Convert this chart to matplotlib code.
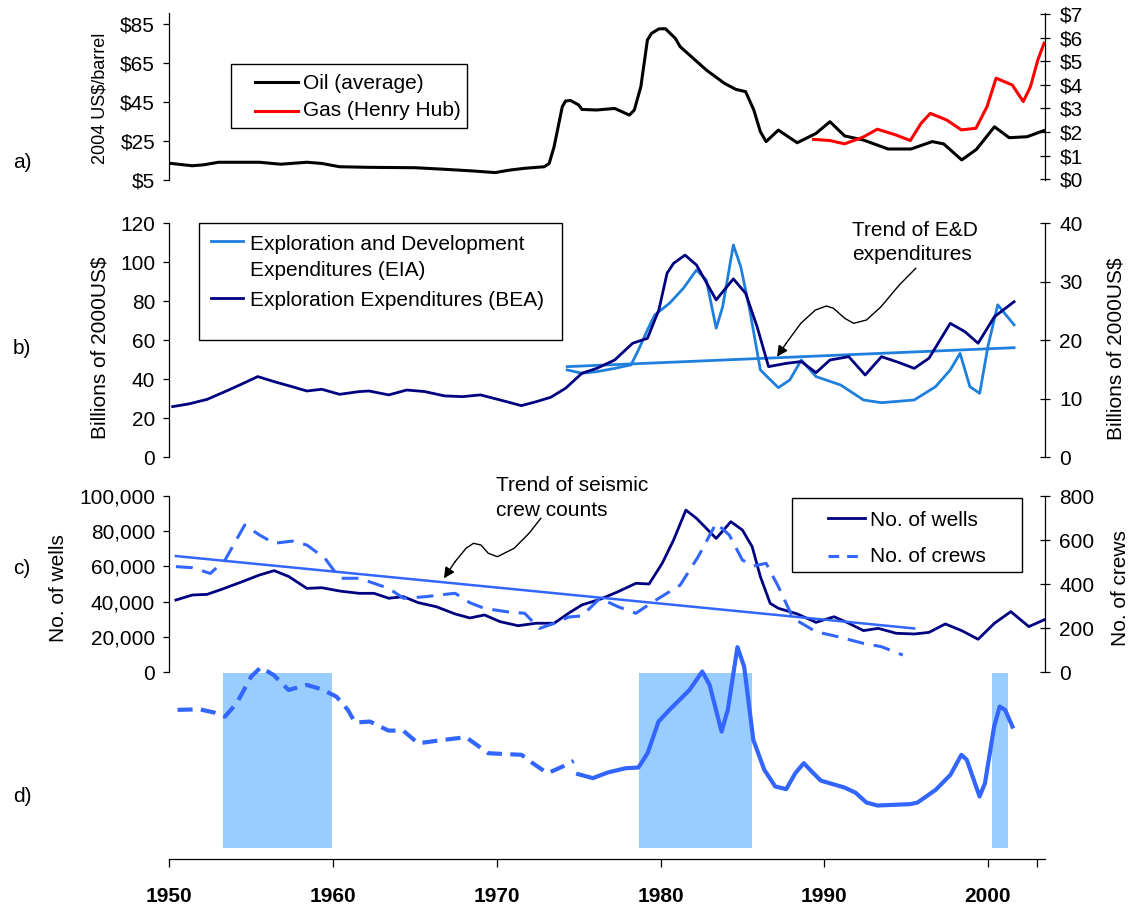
import matplotlib
matplotlib.use("Agg")
import matplotlib.pyplot as plt
from matplotlib.lines import Line2D
from matplotlib.patches import Rectangle
from matplotlib.ticker import FixedLocator, FuncFormatter

plt.rcParams['font.family'] = ['Liberation Sans', 'DejaVu Sans']

# ---- data ----
# a) prices
oil_years = [1950.1, 1951.4, 1952.1, 1953.0, 1955.5, 1956.8, 1958.4, 1959.3, 1960.4, 1962.2,
             1965.0, 1966.8, 1968.6, 1969.9, 1970.8, 1971.7, 1972.9, 1973.2, 1973.5, 1974.0,
             1974.2, 1974.5, 1975.0, 1975.2, 1976.1, 1977.2, 1978.1, 1978.4, 1978.8, 1979.2,
             1979.45, 1979.9, 1980.3, 1980.9, 1981.2, 1982.8, 1983.9, 1984.6, 1985.2, 1985.7,
             1986.1, 1986.45, 1987.2, 1988.35, 1989.5, 1990.35, 1991.25, 1992.4, 1993.9, 1995.3,
             1996.6, 1997.3, 1998.4, 1999.3, 2000.4, 2001.3, 2002.4, 2003.4]
oil_price = [13.5, 12.3, 12.8, 14.1, 14.1, 13.1, 14.1, 13.5, 11.8, 11.5,
             11.3, 10.5, 9.6, 8.8, 10.1, 11.0, 11.8, 13.5, 22.1, 42.6,
             45.5, 45.8, 43.5, 41.2, 40.9, 41.7, 38.3, 40.9, 52.9, 76.8,
             80.2, 82.5, 82.6, 77.7, 73.4, 61.4, 54.6, 51.5, 50.3, 40.9,
             29.8, 24.7, 30.6, 24.1, 28.9, 34.9, 27.6, 25.5, 20.9, 20.9,
             24.7, 23.5, 15.3, 20.7, 32.3, 26.7, 27.2, 30.3]
gas_years = [1989.35, 1990.35, 1991.24, 1992.36, 1993.25, 1994.36, 1995.26, 1995.92, 1996.48,
             1997.48, 1998.38, 1999.27, 1999.95, 2000.5, 2001.49, 2002.16, 2002.6, 2003.05, 2003.43]
gas_price = [1.69, 1.64, 1.50, 1.78, 2.12, 1.88, 1.64, 2.37, 2.79,
             2.51, 2.09, 2.16, 3.08, 4.28, 3.99, 3.29, 3.92, 5.05, 5.76]

# b) expenditures
bea_years = [1950.2, 1951.2, 1952.3, 1953.4, 1954.3, 1955.4, 1956.4, 1957.5, 1958.4, 1959.3,
             1960.4, 1961.6, 1962.2, 1963.4, 1964.5, 1965.6, 1966.8, 1967.9, 1969.0, 1970.2,
             1971.5, 1972.4, 1973.3, 1974.2, 1975.2, 1976.1, 1977.2, 1978.3, 1979.2, 1979.9,
             1980.4, 1980.8, 1981.5, 1982.2, 1983.4, 1984.45, 1985.2, 1985.9, 1986.6, 1987.7,
             1988.6, 1989.5, 1990.35, 1991.5, 1992.5, 1993.5, 1994.6, 1995.5, 1996.4, 1997.7,
             1998.6, 1999.4, 2000.4, 2001.6]
bea_left = [26.0, 27.4, 29.7, 33.7, 37.1, 41.4, 38.8, 36.2, 34.0, 34.9,
            32.3, 33.7, 34.0, 32.0, 34.5, 33.7, 31.5, 31.1, 32.0, 29.4,
            26.5, 28.5, 30.8, 35.4, 43.1, 45.6, 49.9, 58.5, 61.0, 75.6,
            94.4, 99.5, 103.7, 98.6, 80.7, 91.5, 84.1, 67.0, 46.5, 48.2,
            49.1, 43.4, 49.9, 51.6, 42.2, 51.6, 48.5, 45.6, 50.8, 68.7,
            64.4, 58.5, 72.1, 79.8]
bea_spend = [v / 3 for v in bea_left]          # right axis, billions 2000US$
eia_years = [1974.3, 1975.2, 1976.1, 1977.2, 1978.2, 1978.65, 1979.2, 1979.65, 1980.55, 1981.4,
             1982.2, 1982.8, 1983.4, 1983.8, 1984.45, 1984.9, 1985.45, 1986.1, 1987.2, 1987.9,
             1988.6, 1989.5, 1991.0, 1992.4, 1993.5, 1995.5, 1996.8, 1997.7, 1998.3, 1998.9,
             1999.5, 2000.0, 2000.6, 2001.6]
eia_spend = [44.8, 43.1, 43.9, 45.6, 47.4, 55.0, 65.3, 73.0, 79.0, 86.7,
             96.1, 90.9, 66.2, 77.3, 108.9, 97.8, 75.6, 44.8, 35.7, 39.7,
             49.9, 41.4, 37.1, 29.4, 28.0, 29.4, 36.2, 44.8, 53.3, 36.2,
             32.8, 56.8, 78.2, 67.9]
ed_trend_years = [1974.3, 2001.6]
ed_trend = [46.5, 56.2]

# c) wells and crews
well_years = [1950.4, 1951.4, 1952.3, 1953.2, 1954.3, 1955.5, 1956.4, 1957.3, 1958.4, 1959.3,
              1960.4, 1961.6, 1962.5, 1963.4, 1964.3, 1965.2, 1966.3, 1967.45, 1968.35, 1969.25,
              1970.2, 1971.3, 1972.4, 1973.5, 1974.4, 1975.2, 1976.3, 1977.4, 1978.5, 1979.3,
              1980.1, 1980.8, 1981.55, 1982.2, 1982.8, 1983.4, 1984.3, 1985.0, 1985.6, 1986.1,
              1986.7, 1987.2, 1988.35, 1989.5, 1990.6, 1991.5, 1992.4, 1993.3, 1994.4, 1995.5,
              1996.4, 1997.4, 1998.4, 1999.4, 2000.4, 2001.4, 2002.5, 2003.5]
wells = [40900, 43750, 44100, 47000, 50800, 55100, 57600, 54200, 47500, 47900,
         46000, 44700, 44700, 41900, 42800, 39400, 37100, 33000, 30700, 32400,
         28600, 26300, 27700, 27700, 33500, 38100, 41300, 45600, 50400, 50000,
         61700, 75000, 92000, 87300, 81600, 75900, 85400, 80700, 71200, 54200,
         39000, 36200, 33000, 28200, 31400, 27700, 23500, 24800, 22000, 21600,
         22500, 27300, 23500, 18600, 27700, 34300, 25800, 29900]
crew_years = [1950.4, 1951.4, 1952.5, 1953.4, 1954.6, 1955.5, 1956.4, 1957.5, 1958.4, 1959.5,
              1960.4, 1961.6, 1962.5, 1963.4, 1964.3, 1965.6, 1967.45, 1968.35, 1969.25, 1970.6,
              1971.7, 1972.6, 1973.5, 1974.4, 1975.2, 1976.3, 1977.4, 1978.5, 1979.4, 1981.2,
              1982.3, 1983.4, 1984.2, 1985.0, 1985.7, 1986.45, 1987.2, 1988.1, 1989.5, 1990.8,
              1992.4, 1993.5, 1994.8]
crews = [479, 474, 448, 509, 668, 623, 585, 595, 577, 517,
         426, 426, 403, 380, 335, 342, 358, 315, 289, 274,
         267, 198, 221, 250, 255, 335, 297, 267, 312, 395,
         524, 676, 623, 509, 482, 494, 388, 244, 183, 161,
         130, 115, 77]
crew_trend_years = [1950.4, 1995.5]
crew_trend = [527, 198]

# d) composite index (no scale) and shaded periods
d_dash_years = [1950.5, 1951.85, 1952.76, 1953.39, 1954.11, 1955.0, 1955.58, 1956.37, 1957.28,
                1958.4, 1959.3, 1960.2, 1960.9, 1961.34, 1962.25, 1963.38, 1964.28, 1965.19,
                1966.77, 1968.12, 1969.48, 1971.51, 1972.19, 1973.1, 1974.05, 1974.7]
d_dash = [79.0, 79.3, 77.4, 75.1, 82.8, 98.1, 103.4, 99.0, 90.4,
          93.3, 90.8, 86.6, 79.0, 71.7, 72.3, 67.1, 67.1, 59.8,
          61.8, 63.3, 54.1, 53.2, 48.4, 42.6, 46.6, 49.7]
d_solid_years = [1974.97, 1975.87, 1976.76, 1977.87, 1978.65, 1979.21, 1979.88, 1980.55, 1981.77,
                 1982.55, 1983.0, 1983.73, 1984.11, 1984.7, 1985.11, 1985.67, 1986.34, 1987.01,
                 1987.68, 1988.23, 1988.75, 1989.24, 1989.79, 1991.24, 1991.91, 1992.58, 1993.25,
                 1995.26, 1995.7, 1996.81, 1997.71, 1998.38, 1998.71, 1999.49, 1999.82, 2000.38,
                 2000.72, 2001.05, 2001.5]
d_solid = [42.1, 39.8, 43.0, 45.5, 45.9, 54.1, 72.3, 79.0, 90.4,
           101.0, 93.3, 66.5, 79.0, 115.0, 103.8, 61.8, 44.6, 35.0,
           33.5, 42.6, 48.4, 43.6, 38.4, 34.4, 31.5, 25.8, 24.1,
           24.9, 25.8, 33.1, 41.7, 53.2, 50.3, 29.3, 36.9, 69.4,
           80.9, 79.0, 69.4]
shade_start = [1953.3, 1978.7, 2000.27]
shade_end = [1959.94, 1985.58, 2001.23]

NAVY = '#000080'
LIGHT = '#1e80dc'
BLUE = '#3366ff'
SHADE = '#99ccff'

W, H = 1132, 909
fig = plt.figure(figsize=(W / 100, H / 100), dpi=100)


def box(top, bottom, left=169.4, right=1045.2):
    return [left / W, 1 - bottom / H, (right - left) / W, (bottom - top) / H]


def fx(x):
    return x / W


def fy(y):
    return 1 - y / H


def pair(top, bottom):
    ax = fig.add_axes(box(top, bottom))
    ax2 = ax.twinx()
    for a in (ax, ax2):
        a.set_xlim(1950, 2003.5)
        a.patch.set_visible(False)
        a.spines['top'].set_visible(False)
        a.spines['bottom'].set_visible(False)
        a.tick_params(axis='x', which='both', bottom=False, top=False, labelbottom=False)
    ax.spines['right'].set_visible(False)
    ax2.spines['left'].set_visible(False)
    ax.spines['left'].set_linewidth(0.9)
    ax2.spines['right'].set_linewidth(0.9)
    ax.tick_params(axis='y', direction='out', length=4.3, width=0.9, pad=6, labelsize=15)
    ax2.tick_params(axis='y', direction='inout', length=7.5, width=0.9, pad=6.5, labelsize=15)
    return ax, ax2


# ---- a) ----
axa, axa2 = pair(13.3, 180)
axa.plot(oil_years, oil_price, color='black', lw=2.2, solid_joinstyle='round')
axa2.plot(gas_years, gas_price, color='red', lw=2.2, solid_joinstyle='round')
axa.set_ylim(5, 90.5)
axa.yaxis.set_major_locator(FixedLocator([5, 25, 45, 65, 85]))
axa.yaxis.set_major_formatter(FuncFormatter(lambda v, p: '$%d' % v))
axa2.set_ylim(-0.03, 7.025)
axa2.yaxis.set_major_locator(FixedLocator(range(0, 8)))
axa2.yaxis.set_major_formatter(FuncFormatter(lambda v, p: '$%d' % v))

# ---- b) ----
axb, axb2 = pair(223.3, 457.3)
axb.plot(eia_years, eia_spend, color=LIGHT, lw=2.0, solid_joinstyle='round')
axb.plot(ed_trend_years, ed_trend, color=LIGHT, lw=2.0)
axb2.plot(bea_years, bea_spend, color=NAVY, lw=2.0, solid_joinstyle='round')
axb.set_ylim(0, 120)
axb.yaxis.set_major_locator(FixedLocator(range(0, 121, 20)))
axb2.set_ylim(0, 40)
axb2.yaxis.set_major_locator(FixedLocator(range(0, 41, 10)))

# wiggly pointer to the E&D trend
pb_x = [1995.59, 1994.59, 1993.47, 1992.58, 1991.8, 1991.25, 1990.57, 1990.13, 1989.46, 1988.57, 1987.68, 1987.12]
pb_y = [96.9, 88.4, 77.2, 70.4, 68.7, 71.3, 76.4, 77.6, 75.5, 68.7, 58.5, 51.6]
axb.plot(pb_x[:-1], pb_y[:-1], color='black', lw=1.0)
axb.annotate('', xy=(pb_x[-1], pb_y[-1]), xytext=(pb_x[-2], pb_y[-2]),
             arrowprops=dict(arrowstyle='-|>', color='black', lw=1.0, mutation_scale=16,
                             shrinkA=0, shrinkB=0))
fig.text(fx(852), fy(230), 'Trend of E&D', fontsize=15, va='center', ha='left')
fig.text(fx(852), fy(255), 'expenditures', fontsize=15, va='center', ha='left')

# ---- c) ----
axc, axc2 = pair(496, 672)
axc.plot(well_years, wells, color=NAVY, lw=2.0, solid_joinstyle='round')
axc2.plot(crew_years, crews, color=BLUE, lw=2.2, ls=(0, (5.5, 3.2)))
axc2.plot(crew_trend_years, crew_trend, color=BLUE, lw=1.8)
axc.set_ylim(0, 100000)
axc.yaxis.set_major_locator(FixedLocator(range(0, 100001, 20000)))
axc.yaxis.set_major_formatter(FuncFormatter(lambda v, p: '{:,.0f}'.format(v)))
axc2.set_ylim(0, 800)
axc2.yaxis.set_major_locator(FixedLocator(range(0, 801, 200)))

pc_x = [1972.69, 1971.97, 1971.06, 1970.04, 1969.48, 1969.03, 1968.58, 1968.12, 1967.45, 1966.77]
pc_y = [87330, 78810, 70290, 65510, 67440, 72160, 73130, 70290, 62670, 53240]
axc.plot(pc_x[:-1], pc_y[:-1], color='black', lw=1.0)
axc.annotate('', xy=(pc_x[-1], pc_y[-1]), xytext=(pc_x[-2], pc_y[-2]),
             arrowprops=dict(arrowstyle='-|>', color='black', lw=1.0, mutation_scale=16,
                             shrinkA=0, shrinkB=0))
fig.text(fx(496), fy(485), 'Trend of seismic', fontsize=15, va='center', ha='left')
fig.text(fx(496), fy(510), 'crew counts', fontsize=15, va='center', ha='left')

# ---- d) ----
axd = fig.add_axes(box(625, 859))
axd.patch.set_visible(False)
axd.set_xlim(1950, 2003.5)
axd.set_ylim(-6.6, 127.7)
for s, e in zip(shade_start, shade_end):
    axd.add_patch(Rectangle((s, 0), e - s, 100, facecolor=SHADE, edgecolor='none', zorder=1))
axd.plot(d_dash_years, d_dash, color=BLUE, lw=3.0, ls=(0, (3.6, 2.0)), zorder=3)
axd.plot(d_solid_years, d_solid, color=BLUE, lw=3.0, solid_joinstyle='round', zorder=3)
for side in ('left', 'right', 'top'):
    axd.spines[side].set_visible(False)
axd.spines['bottom'].set_linewidth(0.9)
axd.set_yticks([])
axd.set_xticks([1950, 1960, 1970, 1980, 1990, 2000, 2003])
axd.set_xticklabels(['1950', '1960', '1970', '1980', '1990', '2000', ''],
                    fontsize=15, fontweight='bold')
axd.tick_params(axis='x', direction='out', length=5.5, width=0.9, pad=15)

# ---- legends drawn as boxes ----
def legend_box(x0, y0, x1, y1, handles, texts):
    fig.add_artist(Rectangle((fx(x0), fy(y1)), (x1 - x0) / W, (y1 - y0) / H,
                             transform=fig.transFigure, facecolor='white',
                             edgecolor='black', lw=1.0, zorder=5))
    for hy, hx0, hx1, style in handles:
        fig.add_artist(Line2D([fx(hx0), fx(hx1)], [fy(hy), fy(hy)],
                              transform=fig.transFigure, zorder=6, **style))
    for tx, ty, label in texts:
        fig.text(fx(tx), fy(ty), label, fontsize=15, va='center', ha='left', zorder=6)


legend_box(231, 64.3, 467, 128.3,
           [(81.5, 255, 298, dict(color='black', lw=2.2)),
            (110.5, 255, 298, dict(color='red', lw=2.2))],
           [(303, 83.3, 'Oil (average)'), (303, 110, 'Gas (Henry Hub)')])
legend_box(199, 223.3, 562, 340,
           [(241, 211, 243.4, dict(color=LIGHT, lw=2.0)),
            (297.7, 211, 243.4, dict(color=NAVY, lw=2.0))],
           [(249.7, 245, 'Exploration and Development'), (249.7, 270, 'Expenditures (EIA)'),
            (249.7, 300, 'Exploration Expenditures (BEA)')])
legend_box(792.4, 497.7, 1021.5, 572.3,
           [(518, 828.2, 864.6, dict(color=NAVY, lw=2.0)),
            (555.5, 828.2, 864.6, dict(color=BLUE, lw=2.2, ls=(0, (3.5, 2.6))))],
           [(870.1, 520, 'No. of wells'), (870.1, 556.7, 'No. of crews')])

# ---- axis titles and panel letters ----
fig.text(fx(100), fy(98), '2004 US$/barrel', rotation=90, fontsize=13, va='center', ha='center')
fig.text(fx(100), fy(348), 'Billions of 2000US$', rotation=90, fontsize=15, va='center', ha='center')
fig.text(fx(1116), fy(349), 'Billions of 2000US$', rotation=90, fontsize=15, va='center', ha='center')
fig.text(fx(59), fy(588), 'No. of wells', rotation=90, fontsize=15, va='center', ha='center')
fig.text(fx(1120), fy(588), 'No. of crews', rotation=90, fontsize=15, va='center', ha='center')

for lab, y in [('a)', 163), ('b)', 348), ('c)', 568), ('d)', 796)]:
    fig.text(fx(13), fy(y), lab, fontsize=15, va='center', ha='left')

fig.savefig('out.png', dpi=100)
